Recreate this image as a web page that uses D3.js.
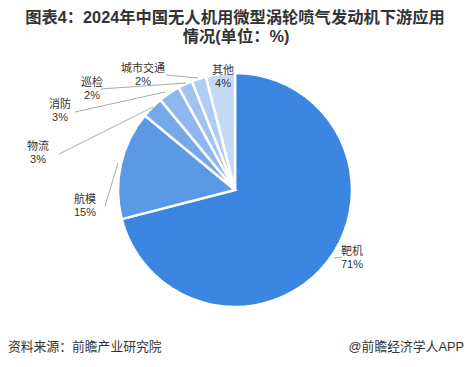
<!DOCTYPE html>
<html>
<head>
  <meta charset="utf-8" />
  <title>2024年中国无人机用微型涡轮喷气发动机下游应用情况</title>
  <script src="https://d3js.org/d3.v7.min.js"></script>
  <style>
    body { margin: 0; background: #fff; }
    svg text { font-family: "Liberation Sans", "Noto Sans CJK SC", sans-serif; }
  </style>
</head>
<body>
<svg id="chart" width="471" height="367"></svg>
<script>
  // Data
  const categories = ["靶机", "航模", "物流", "消防", "巡检", "城市交通", "其他"];
  const shares = [71, 15, 3, 3, 2, 2, 4];
  const sliceColors = ["#3a86e0", "#5b99e4", "#77a9ea", "#8db7ee", "#a0c3f0", "#b0cdf3", "#c3d9f6"];

  // label anchor (text centre) and leader line end, per slice
  const labelPos = [
    { x: 352, y: 251, line: [[334, 258], [342, 257]] },
    { x: 85, y: 199, line: [[118, 163], [105, 206]] },
    { x: 38, y: 146, line: [[153, 107], [59, 154]] },
    { x: 60, y: 104, line: [[165, 92], [75, 112]] },
    { x: 92, y: 82, line: [[186, 83], [101, 89]] },
    { x: 143, y: 68, line: [[198, 78], [166, 75]] },
    { x: 223, y: 70, line: null }
  ];

  const svg = d3.select("#chart");
  const cx = 235, cy = 190, r = 117;

  // Title
  const title = svg.append("g").attr("font-weight", "bold").attr("font-size", 16.3)
    .attr("fill", "#333").attr("text-anchor", "middle");
  title.append("text").attr("x", 235).attr("y", 23).text("图表4：2024年中国无人机用微型涡轮喷气发动机下游应用");
  title.append("text").attr("x", 236).attr("y", 42).text("情况(单位：%)");

  const pie = d3.pie().sort(null).value(d => d);
  const arc = d3.arc().innerRadius(0).outerRadius(r);
  const arcs = pie(shares);

  const g = svg.append("g").attr("transform", `translate(${cx},${cy})`);
  g.selectAll("path")
    .data(arcs)
    .enter()
    .append("path")
    .attr("d", arc)
    .attr("fill", (d, i) => sliceColors[i])
    .attr("stroke", "#fff")
    .attr("stroke-width", 2.5);

  // leader lines
  svg.selectAll("polyline.leader")
    .data(labelPos.filter(p => p.line))
    .enter()
    .append("polyline")
    .attr("class", "leader")
    .attr("points", p => p.line.map(q => q.join(",")).join(" "))
    .attr("fill", "none")
    .attr("stroke", "#aaa")
    .attr("stroke-width", 1);

  // labels
  const lab = svg.selectAll("g.lab")
    .data(categories)
    .enter()
    .append("g")
    .attr("class", "lab")
    .attr("font-size", 11)
    .attr("fill", "#333")
    .attr("text-anchor", "middle");
  lab.append("text")
    .attr("x", (d, i) => labelPos[i].x)
    .attr("y", (d, i) => labelPos[i].y + 4)
    .text(d => d);
  lab.append("text")
    .attr("x", (d, i) => labelPos[i].x)
    .attr("y", (d, i) => labelPos[i].y + 17)
    .text((d, i) => shares[i] + "%");

  // footer
  svg.append("text").attr("x", 8).attr("y", 351).attr("font-size", 12.8).attr("fill", "#333")
    .text("资料来源：前瞻产业研究院");
  svg.append("text").attr("x", 464).attr("y", 351).attr("font-size", 12.8).attr("fill", "#333")
    .attr("text-anchor", "end").text("@前瞻经济学人APP");
</script>
</body>
</html>
